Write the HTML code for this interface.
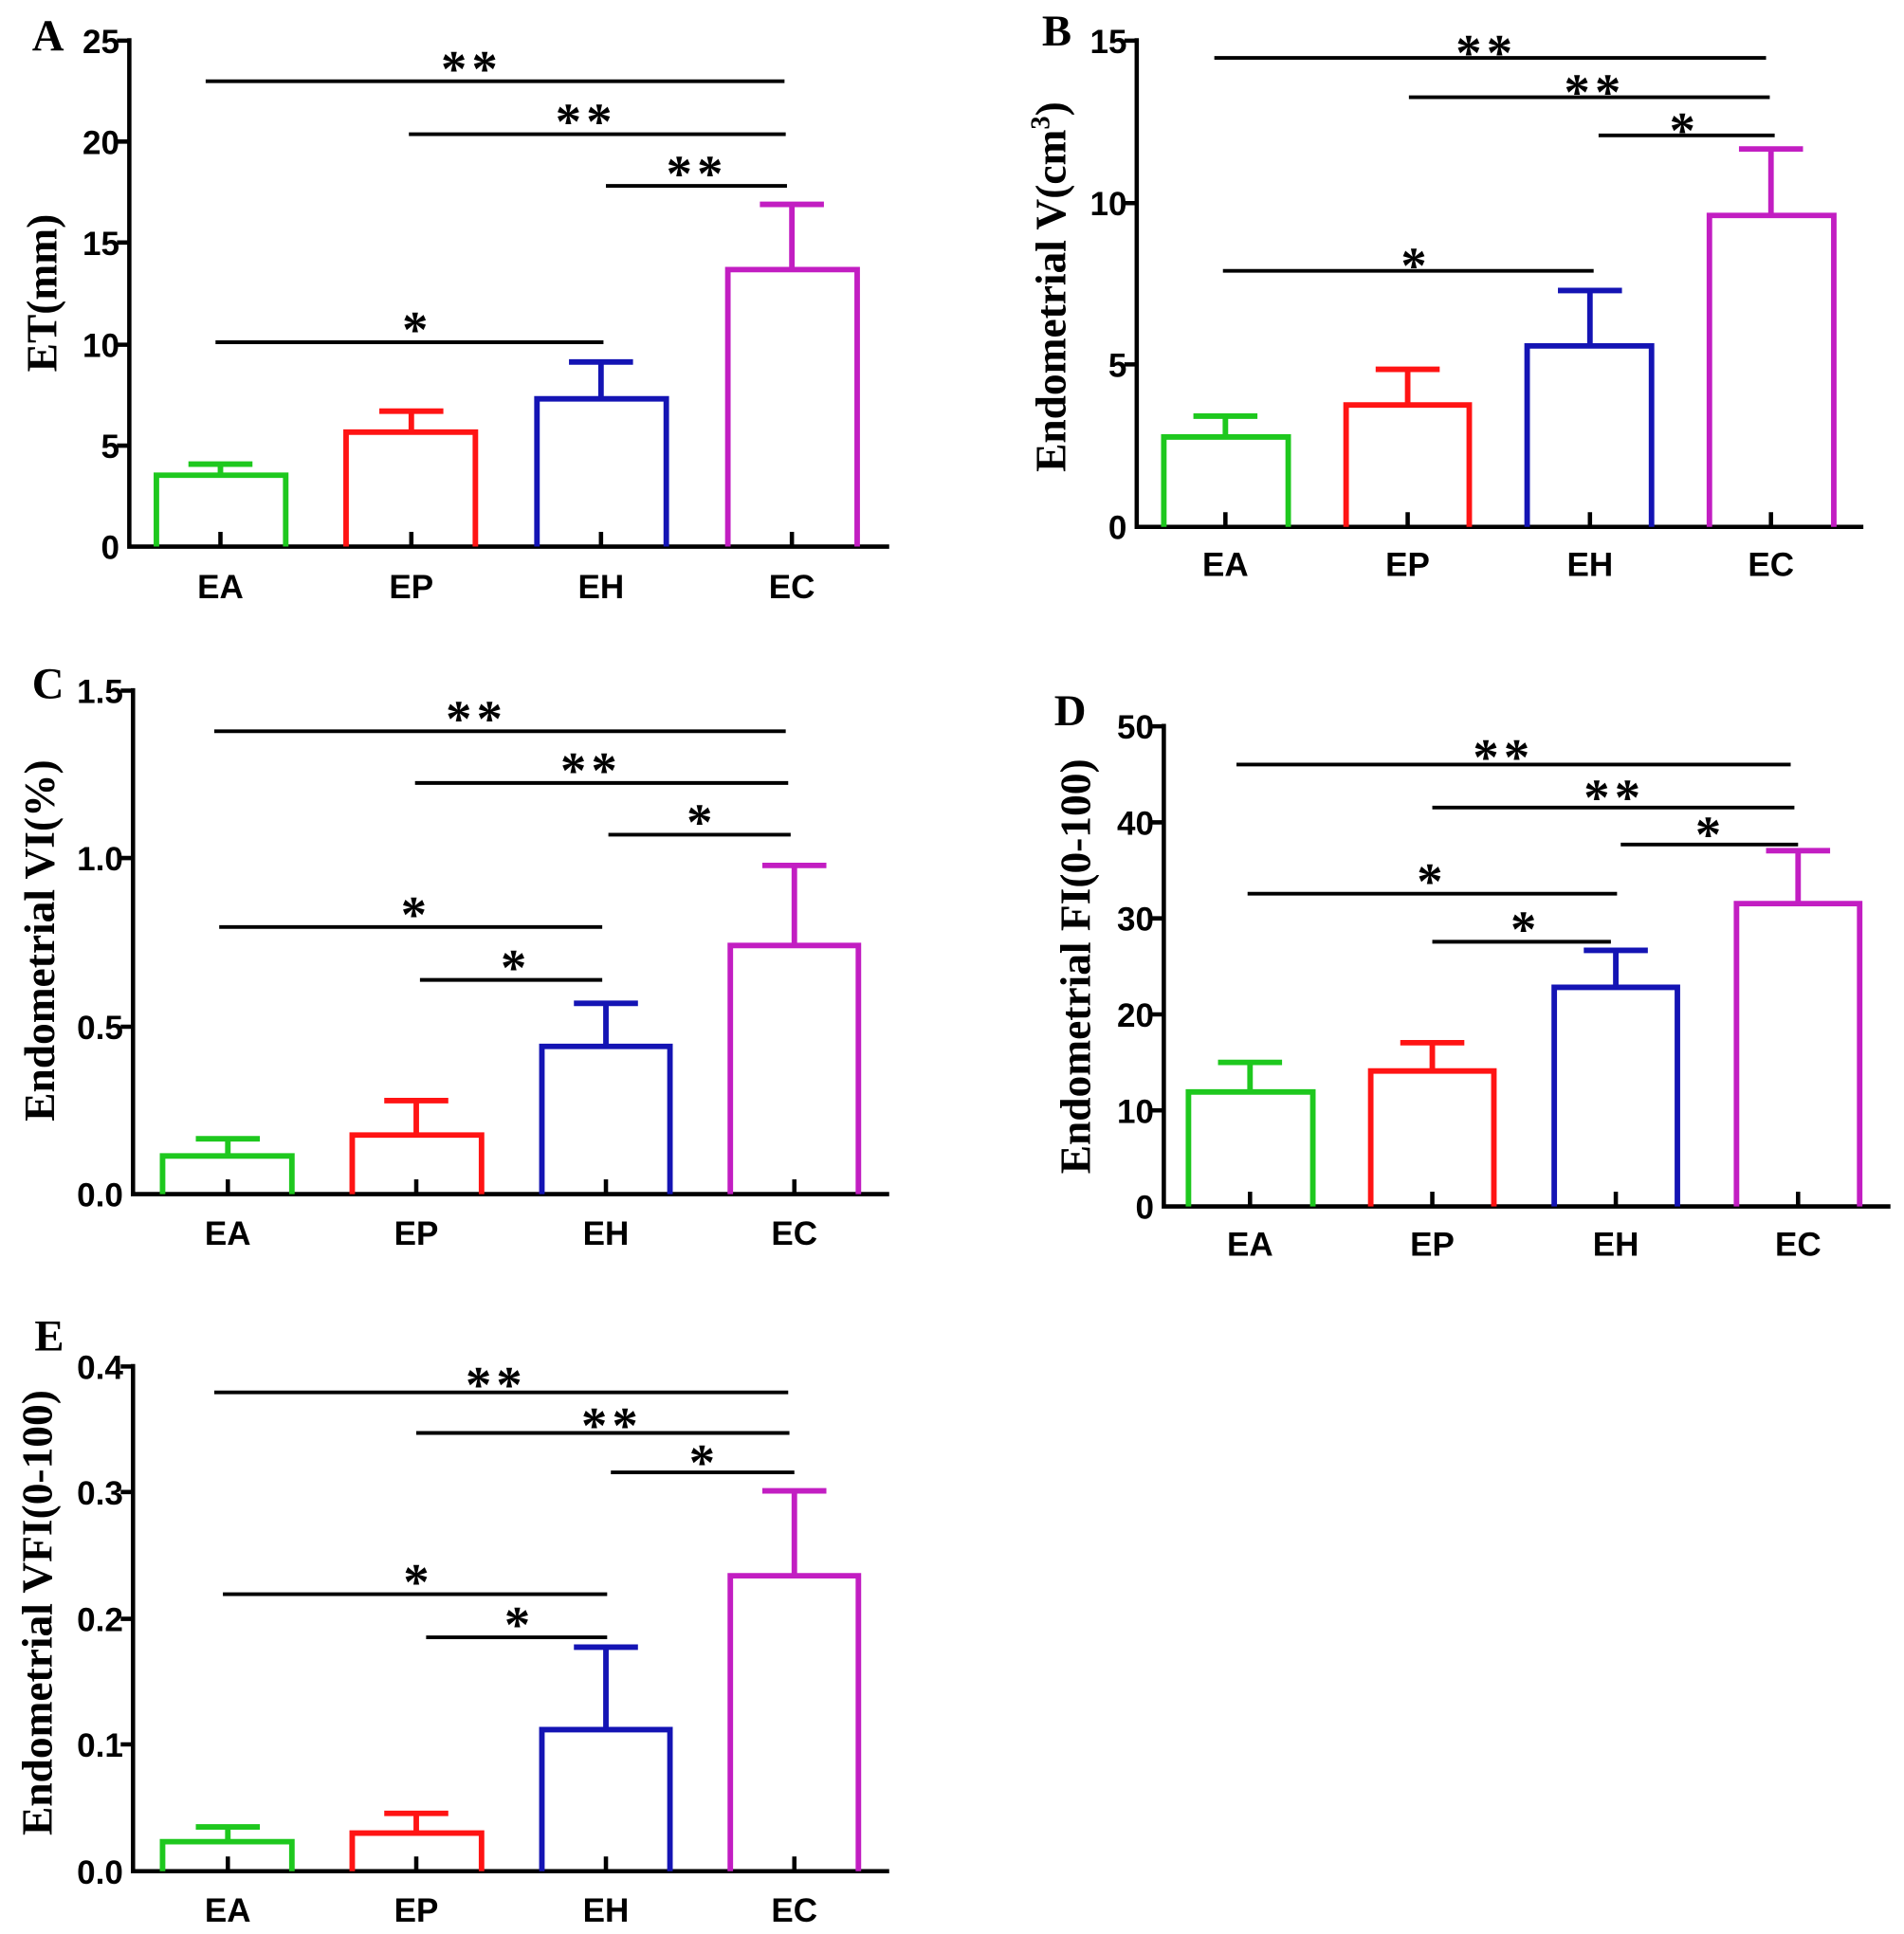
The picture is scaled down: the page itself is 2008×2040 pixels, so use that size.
<!DOCTYPE html>
<html><head><meta charset="utf-8"><style>
html,body{margin:0;padding:0;background:#fff}
svg{display:block}
.t{font-family:"Liberation Sans",sans-serif;font-weight:bold;font-size:27px;fill:#000}
.c{font-family:"Liberation Sans",sans-serif;font-weight:bold;font-size:27px;fill:#000;text-anchor:middle}
.y{font-family:"Liberation Serif",serif;font-weight:bold;font-size:35px;fill:#000;text-anchor:middle}
.L{font-family:"Liberation Serif",serif;font-weight:bold;font-size:36px;fill:#000}
.s{font-family:"Liberation Serif",serif;font-weight:bold;font-size:42px;fill:#000;text-anchor:middle;letter-spacing:4px}
.ax{stroke:#000;stroke-width:3.5;fill:none}
.sg{stroke:#000;stroke-width:3;fill:none}
.g{stroke:#1ec81e;stroke-width:4.5;fill:none}
.r{stroke:#ff1414;stroke-width:4.5;fill:none}
.b{stroke:#1414b4;stroke-width:4.5;fill:none}
.m{stroke:#c21ec2;stroke-width:4.5;fill:none}
</style></head><body>
<svg width="2008" height="2040" viewBox="0 0 1546 1571" preserveAspectRatio="none">
<!-- Panel A -->
<text class="L" x="26" y="41">A</text>
<text class="y" transform="translate(46,238) rotate(-90)">ET(mm)</text>
<path class="ax" d="M105 31V444H722M95 33H105M95 115H105M95 197H105M95 280H105M95 362H105M179 444V432M334 444V432M488 444V432M643 444V432"/>
<g class="t" text-anchor="end"><text x="97" y="43">25</text><text x="97" y="125">20</text><text x="97" y="207">15</text><text x="97" y="290">10</text><text x="97" y="372">5</text><text x="97" y="454">0</text></g>
<g class="c"><text x="179" y="486">EA</text><text x="334" y="486">EP</text><text x="488" y="486">EH</text><text x="643" y="486">EC</text></g>
<path class="g" d="M127 444V386H232V444M179 386V377M153 377H205"/>
<path class="r" d="M281 444V351H386V444M334 351V334M308 334H360"/>
<path class="b" d="M436 444V324H541V444M488 324V294M462 294H514"/>
<path class="m" d="M591 444V219H696V444M643 219V166M617 166H669"/>
<path class="sg" d="M167 66H637M332 109H638M492 151H639M175 278H490"/>
<g class="s"><text x="383" y="70">**</text><text x="476" y="113">**</text><text x="566" y="155">**</text><text x="339" y="282">*</text></g>

<!-- Panel B -->
<text class="L" x="846" y="37">B</text>
<text class="y" transform="translate(865,233) rotate(-90)">Endometrial V(cm<tspan dy="-13" font-size="22">3</tspan><tspan dy="13">)</tspan></text>
<path class="ax" d="M923 31V428H1513M913 33H923M913 165H923M913 296H923M995 428V416M1143 428V416M1291 428V416M1438 428V416"/>
<g class="t" text-anchor="end"><text x="915" y="43">15</text><text x="915" y="175">10</text><text x="915" y="306">5</text><text x="915" y="438">0</text></g>
<g class="c"><text x="995" y="468">EA</text><text x="1143" y="468">EP</text><text x="1291" y="468">EH</text><text x="1438" y="468">EC</text></g>
<path class="g" d="M945 428V355H1046V428M995 355V338M969 338H1021"/>
<path class="r" d="M1093 428V329H1193V428M1143 329V300M1117 300H1169"/>
<path class="b" d="M1240 428V281H1341V428M1291 281V236M1265 236H1317"/>
<path class="m" d="M1388 428V175H1489V428M1438 175V121M1412 121H1464"/>
<path class="sg" d="M986 47H1434M1144 79H1437M1298 110H1441M993 220H1294"/>
<g class="s"><text x="1207" y="57">**</text><text x="1295" y="89">**</text><text x="1368" y="120">*</text><text x="1150" y="230">*</text></g>

<!-- Panel C -->
<text class="L" x="26" y="567">C</text>
<text class="y" transform="translate(44,764) rotate(-90)">Endometrial VI(%)</text>
<path class="ax" d="M108 559V970H722M98 561H108M98 697H108M98 834H108M185 970V958M338 970V958M492 970V958M645 970V958"/>
<g class="t" text-anchor="end"><text x="100" y="571">1.5</text><text x="100" y="707">1.0</text><text x="100" y="844">0.5</text><text x="100" y="980">0.0</text></g>
<g class="c"><text x="185" y="1011">EA</text><text x="338" y="1011">EP</text><text x="492" y="1011">EH</text><text x="645" y="1011">EC</text></g>
<path class="g" d="M132 970V939H237V970M185 939V925M159 925H211"/>
<path class="r" d="M286 970V922H391V970M338 922V894M312 894H364"/>
<path class="b" d="M440 970V850H544V970M492 850V815M466 815H518"/>
<path class="m" d="M593 970V768H697V970M645 768V703M619 703H671"/>
<path class="sg" d="M174 594H638M337 636H640M494 678H642M178 753H489M341 796H489"/>
<g class="s"><text x="387" y="598">**</text><text x="480" y="640">**</text><text x="570" y="682">*</text><text x="338" y="757">*</text><text x="419" y="800">*</text></g>

<!-- Panel D -->
<text class="L" x="856" y="589">D</text>
<text class="y" transform="translate(885,785) rotate(-90)">Endometrial FI(0-100)</text>
<path class="ax" d="M945 588V980H1535M935 590H945M935 668H945M935 746H945M935 824H945M935 902H945M1015 980V968M1163 980V968M1312 980V968M1460 980V968"/>
<g class="t" text-anchor="end"><text x="937" y="600">50</text><text x="937" y="678">40</text><text x="937" y="756">30</text><text x="937" y="834">20</text><text x="937" y="912">10</text><text x="937" y="990">0</text></g>
<g class="c"><text x="1015" y="1020">EA</text><text x="1163" y="1020">EP</text><text x="1312" y="1020">EH</text><text x="1460" y="1020">EC</text></g>
<path class="g" d="M965 980V887H1066V980M1015 887V863M989 863H1041"/>
<path class="r" d="M1113 980V870H1213V980M1163 870V847M1137 847H1189"/>
<path class="b" d="M1262 980V802H1362V980M1312 802V772M1286 772H1338"/>
<path class="m" d="M1410 980V734H1510V980M1460 734V691M1434 691H1486"/>
<path class="sg" d="M1004 621H1454M1163 656H1457M1316 686H1460M1013 726H1313M1163 765H1308"/>
<g class="s"><text x="1221" y="629">**</text><text x="1311" y="662">**</text><text x="1389" y="692">*</text><text x="1163" y="730">*</text><text x="1239" y="769">*</text></g>

<!-- Panel E -->
<text class="L" x="28" y="1097">E</text>
<text class="y" transform="translate(42,1310) rotate(-90)">Endometrial VFI(0-100)</text>
<path class="ax" d="M108 1108V1520H722M98 1110H108M98 1212H108M98 1315H108M98 1417H108M185 1520V1508M338 1520V1508M492 1520V1508M645 1520V1508"/>
<g class="t" text-anchor="end"><text x="100" y="1120">0.4</text><text x="100" y="1222">0.3</text><text x="100" y="1325">0.2</text><text x="100" y="1427">0.1</text><text x="100" y="1530">0.0</text></g>
<g class="c"><text x="185" y="1561">EA</text><text x="338" y="1561">EP</text><text x="492" y="1561">EH</text><text x="645" y="1561">EC</text></g>
<path class="g" d="M132 1520V1496H237V1520M185 1496V1484M159 1484H211"/>
<path class="r" d="M286 1520V1489H391V1520M338 1489V1473M312 1473H364"/>
<path class="b" d="M440 1520V1405H544V1520M492 1405V1338M466 1338H518"/>
<path class="m" d="M593 1520V1280H697V1520M645 1280V1211M619 1211H671"/>
<path class="sg" d="M174 1131H640M338 1164H641M496 1196H645M181 1295H493M346 1330H493"/>
<g class="s"><text x="403" y="1139">**</text><text x="497" y="1172">**</text><text x="572" y="1202">*</text><text x="340" y="1299">*</text><text x="422" y="1334">*</text></g>
</svg>
</body></html>
